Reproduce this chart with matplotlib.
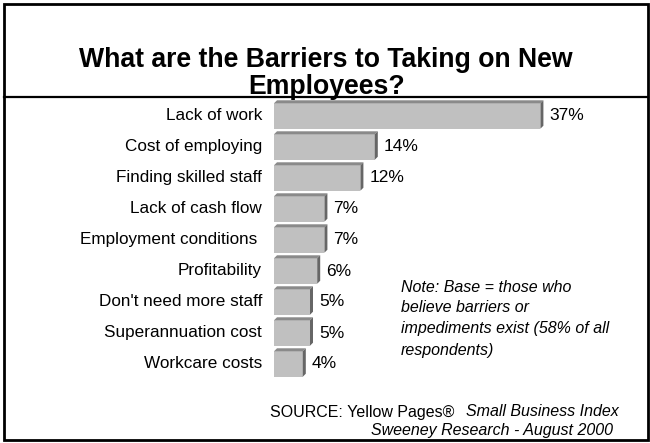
import matplotlib
matplotlib.use("Agg")
import matplotlib.pyplot as plt
from matplotlib.patches import Polygon, Rectangle
from matplotlib.lines import Line2D

# Survey results: barriers to taking on new employees (% of respondents)
categories = [
    "Lack of work",
    "Cost of employing",
    "Finding skilled staff",
    "Lack of cash flow",
    "Employment conditions ",
    "Profitability",
    "Don't need more staff",
    "Superannuation cost",
    "Workcare costs",
]
values = [37, 14, 12, 7, 7, 6, 5, 5, 4]
value_labels = ["37%", "14%", "12%", "7%", "7%", "6%", "5%", "5%", "4%"]

title_lines = ["What are the Barriers to Taking on New", "Employees?"]
note_lines = [
    "Note: Base = those who",
    "believe barriers or",
    "impediments exist (58% of all",
    "respondents)",
]
source_plain = "SOURCE: Yellow Pages®"
source_italic = "Small Business Index"
source_line2 = "Sweeney Research - August 2000"

FONT = "Liberation Sans"
W, H = 650, 443
fig = plt.figure(figsize=(W / 100, H / 100), dpi=100)
fig.patch.set_facecolor("white")


def fx(px):
    return px / W


def fy(py):
    return 1 - py / H


# Slide frame and title rule
fig.add_artist(Rectangle((fx(4), fy(440)), fx(644), 436 / H, transform=fig.transFigure,
                         fill=False, edgecolor="black", linewidth=2))
fig.add_artist(Line2D([fx(4), fx(648)], [fy(97), fy(97)], transform=fig.transFigure,
                      color="black", linewidth=1.6))

# Title
fig.text(fx(326), fy(60), title_lines[0], ha="center", va="center",
         fontsize=19.2, fontweight="bold", family=FONT)
fig.text(fx(327), fy(87), title_lines[1], ha="center", va="center",
         fontsize=19.2, fontweight="bold", family=FONT)

# Bar chart area: 7.2 px per percentage point, one row every 31 px
ax_top, ax_bot = 85, 395
ax = fig.add_axes([fx(274), fy(ax_bot), 360 / W, (ax_bot - ax_top) / H])
ax.set_xlim(0, 50)
ax.set_ylim(len(categories) - 0.0, -1.0)
ax.axis("off")

bar_h = 0.82
dx = 3 / 7.2      # depth offset in x (data units)
dy = 3 / 31       # depth offset in y (data units)
front_c = "#c0c0c0"
top_c = "#8a8a8a"
side_c = "#666666"

ypos = list(range(len(categories)))
ax.barh(ypos, values, height=bar_h, color=front_c, edgecolor="none", zorder=2)
for y, v, lab, cat in zip(ypos, values, value_labels, categories):
    y_top = y - bar_h / 2
    y_bot = y + bar_h / 2
    ax.add_patch(Polygon([(0, y_top), (v, y_top), (v + dx, y_top - dy), (dx, y_top - dy)],
                         closed=True, facecolor=top_c, edgecolor="none", zorder=3))
    ax.add_patch(Polygon([(v, y_top), (v + dx, y_top - dy), (v + dx, y_bot - dy), (v, y_bot)],
                         closed=True, facecolor=side_c, edgecolor="none", zorder=3))
    ax.text(v + 1.25, y, lab, ha="left", va="center", fontsize=12.5, family=FONT,
            clip_on=False)
    ax.text(-1.65, y, cat, ha="right", va="center", fontsize=12.3, family=FONT,
            clip_on=False)

# Note
for i, line in enumerate(note_lines):
    fig.text(fx(401), fy(287 + 21 * i), line, ha="left", va="center",
             fontsize=11.5, style="italic", family=FONT)

# Source
fig.text(fx(270), fy(412), source_plain, ha="left", va="center", fontsize=11.5, family=FONT)
fig.text(fx(619), fy(412), source_italic, ha="right", va="center", fontsize=11.5,
         style="italic", family=FONT)
fig.text(fx(613), fy(431), source_line2, ha="right", va="center", fontsize=11.5,
         style="italic", family=FONT)

fig.savefig("out.png", dpi=100, facecolor="white")
